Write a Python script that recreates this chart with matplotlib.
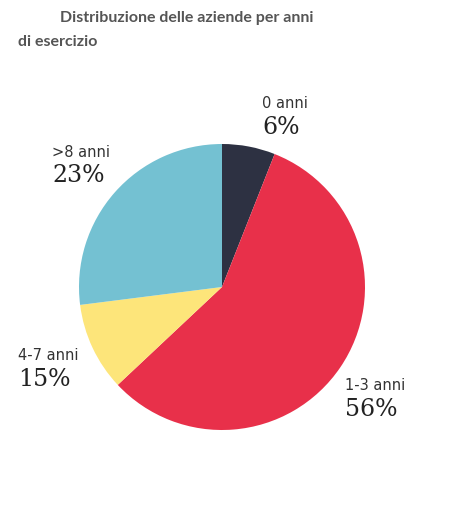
import matplotlib
matplotlib.use("Agg")
import matplotlib.pyplot as plt

# slice sizes as drawn, and the printed labels
categories = ["0 anni", "1-3 anni", "4-7 anni", ">8 anni"]
slice_sizes = [6, 57, 10, 27]
pct_labels = ["6%", "56%", "15%", "23%"]
colors = ["#2d3142", "#e8304a", "#fde57a", "#74c1d2"]

W, H = 464, 520
fig = plt.figure(figsize=(W / 100, H / 100), dpi=100)
cx, cy, r = 222, 287, 143
ax = fig.add_axes([(cx - r) / W, (H - cy - r) / H, 2 * r / W, 2 * r / H])
ax.pie(slice_sizes, colors=colors, startangle=90, counterclock=False,
       wedgeprops=dict(linewidth=0), frame=False)
ax.set_xlim(-1, 1)
ax.set_ylim(-1, 1)
ax.set_aspect("equal")
ax.axis("off")

fig.text(60 / W, 1 - 18 / H, "Distribuzione delle aziende per anni",
         fontsize=11.5, color="#555555", fontweight="bold", family="Lato", va="center")
fig.text(18 / W, 1 - 42 / H, "di esercizio",
         fontsize=11.5, color="#555555", fontweight="bold", family="Lato", va="center")

# label positions (px): (x, y of small label)
pos = [(262, 103), (345, 385), (18, 355), (52, 152)]
for (x, y), c, p in zip(pos, categories, pct_labels):
    fig.text(x / W, 1 - y / H, c, fontsize=10.5, color="#333333", va="center")
    fig.text(x / W, 1 - (y + 24) / H, p, fontsize=17, color="#222222",
             family="DejaVu Serif", va="center")

fig.savefig("out.png", dpi=100)
